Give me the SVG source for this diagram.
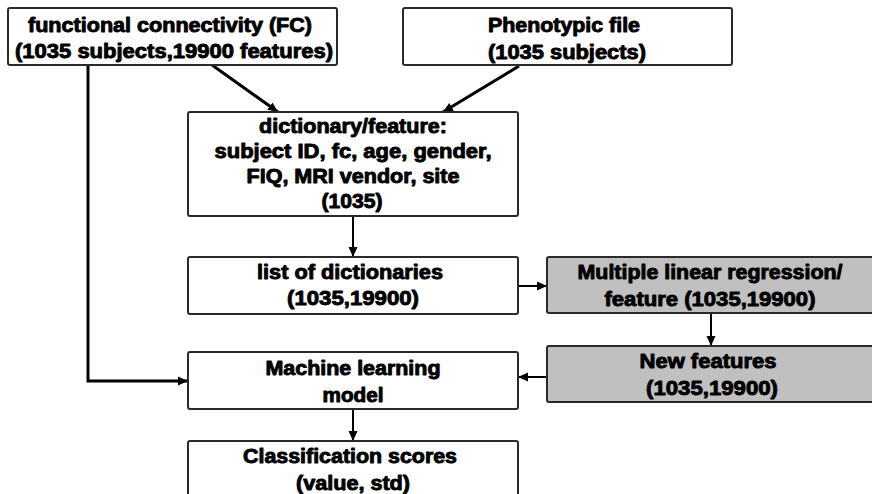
<svg xmlns="http://www.w3.org/2000/svg" width="872" height="494" viewBox="0 0 872 494">
<defs>
<style>
.box{fill:#ffffff;stroke:#2a2a2a;stroke-width:2}
.gray{fill:#c0c0c0;stroke:#2a2a2a;stroke-width:2}
.t{font-family:"Liberation Sans",Arial,sans-serif;font-weight:bold;font-size:20px;fill:#000;stroke:#000;stroke-width:0.9;stroke-linejoin:round;text-anchor:middle}
.c{fill:none;stroke:#000;stroke-width:2}
.thick{stroke-width:3}
</style>
<marker id="ah" markerUnits="userSpaceOnUse" markerWidth="12" markerHeight="10" refX="10" refY="5" orient="auto">
<path d="M0,0.5 L10,5 L0,9.5 Z" fill="#000"/>
</marker>
</defs>
<rect width="872" height="494" fill="#ffffff"/>
<g id="connectors">
<line class="c thick" x1="212" y1="65" x2="278" y2="112" marker-end="url(#ah)"/>
<line class="c thick" x1="519" y1="66" x2="443" y2="112" marker-end="url(#ah)"/>
<line class="c" x1="353" y1="216" x2="353" y2="257" marker-end="url(#ah)"/>
<line class="c" x1="518" y1="286" x2="547" y2="286" marker-end="url(#ah)"/>
<line class="c" x1="711" y1="313" x2="711" y2="346" marker-end="url(#ah)"/>
<line class="c" x1="547" y1="377" x2="518" y2="377" marker-end="url(#ah)"/>
<polyline class="c thick" points="88,65 88,381 188,381" marker-end="url(#ah)"/>
<line class="c" x1="353" y1="409" x2="353" y2="441" marker-end="url(#ah)"/>
</g>
<g id="fc">
<rect class="box" x="8" y="8" width="329" height="57" rx="2"/>
<text class="t" x="170" y="32" textLength="284" lengthAdjust="spacingAndGlyphs">functional connectivity (FC)</text>
<text class="t" x="174" y="58" textLength="318" lengthAdjust="spacingAndGlyphs">(1035 subjects,19900 features)</text>
</g>
<g id="phenotypic">
<rect class="box" x="403" y="8" width="329" height="57" rx="2"/>
<text class="t" x="564" y="32" textLength="152" lengthAdjust="spacingAndGlyphs">Phenotypic file</text>
<text class="t" x="567" y="59" textLength="158" lengthAdjust="spacingAndGlyphs">(1035 subjects)</text>
</g>
<g id="dictionary">
<rect class="box" x="188" y="112" width="330" height="104" rx="2"/>
<text class="t" x="353" y="133" textLength="188" lengthAdjust="spacingAndGlyphs">dictionary/feature:</text>
<text class="t" x="353" y="158" textLength="277" lengthAdjust="spacingAndGlyphs">subject ID, fc, age, gender,</text>
<text class="t" x="353" y="183" textLength="213" lengthAdjust="spacingAndGlyphs">FIQ, MRI vendor, site</text>
<text class="t" x="352" y="208" textLength="61" lengthAdjust="spacingAndGlyphs">(1035)</text>
</g>
<g id="list">
<rect class="box" x="188" y="257" width="330" height="57" rx="2"/>
<text class="t" x="350" y="279" textLength="186" lengthAdjust="spacingAndGlyphs">list of dictionaries</text>
<text class="t" x="353" y="305" textLength="132" lengthAdjust="spacingAndGlyphs">(1035,19900)</text>
</g>
<g id="mlr">
<rect class="gray" x="547" y="257" width="330" height="56" rx="2"/>
<text class="t" x="710" y="279" textLength="265" lengthAdjust="spacingAndGlyphs">Multiple linear regression/</text>
<text class="t" x="710" y="306" textLength="211" lengthAdjust="spacingAndGlyphs">feature (1035,19900)</text>
</g>
<g id="newfeatures">
<rect class="gray" x="547" y="346" width="330" height="56" rx="2"/>
<text class="t" x="708" y="368" textLength="137" lengthAdjust="spacingAndGlyphs">New features</text>
<text class="t" x="712" y="395" textLength="132" lengthAdjust="spacingAndGlyphs">(1035,19900)</text>
</g>
<g id="ml">
<rect class="box" x="188" y="352" width="330" height="57" rx="2"/>
<text class="t" x="353" y="375" textLength="175" lengthAdjust="spacingAndGlyphs">Machine learning</text>
<text class="t" x="353" y="402" textLength="61" lengthAdjust="spacingAndGlyphs">model</text>
</g>
<g id="classification">
<rect class="box" x="188" y="441" width="330" height="70" rx="2"/>
<text class="t" x="350" y="463" textLength="214" lengthAdjust="spacingAndGlyphs">Classification scores</text>
<text class="t" x="353" y="490" textLength="114" lengthAdjust="spacingAndGlyphs">(value, std)</text>
</g>
</svg>
